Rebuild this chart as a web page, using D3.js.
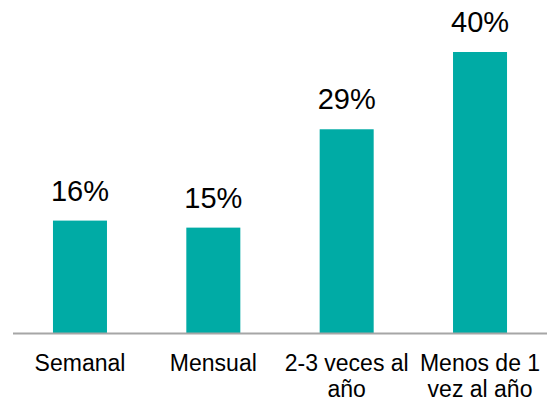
<!DOCTYPE html>
<html>
<head>
<meta charset="utf-8">
<script src="https://cdn.jsdelivr.net/npm/d3@7"></script>
<style>
  html, body { margin: 0; padding: 0; background: #fff; }
  svg { display: block; }
</style>
</head>
<body>
<div id="chart"></div>
<script>
// Frequency categories (each label may wrap onto two lines)
const categories = ["Semanal", "Mensual", "2-3 veces al año", "Menos de 1 vez al año"];
const categoryLines = [["Semanal"], ["Mensual"], ["2-3 veces al", "año"], ["Menos de 1", "vez al año"]];
const values = [16, 15, 29, 40];

const width = 547, height = 403;
const baseY = 333;

const svg = d3.select("#chart").append("svg")
  .attr("width", width)
  .attr("height", height);

const x = d3.scaleBand()
  .domain(categories)
  .range([13.3, 546.7])
  .paddingInner(0.595)
  .paddingOuter(0.2975);

const y = d3.scaleLinear()
  .domain([0, 40])
  .range([baseY, 52]);

// Bars
svg.selectAll("rect.bar")
  .data(values)
  .join("rect")
  .attr("class", "bar")
  .attr("x", (d, i) => x(categories[i]))
  .attr("y", d => y(d))
  .attr("width", x.bandwidth())
  .attr("height", d => baseY - y(d))
  .attr("fill", "#00ABA5");

// Baseline
svg.append("line")
  .attr("x1", 13).attr("x2", width)
  .attr("y1", baseY + 0.5).attr("y2", baseY + 0.5)
  .attr("stroke", "#A6A6A6")
  .attr("stroke-width", 2);

// Value labels above bars
svg.selectAll("text.value")
  .data(values)
  .join("text")
  .attr("class", "value")
  .attr("x", (d, i) => x(categories[i]) + x.bandwidth() / 2)
  .attr("y", d => y(d) - 20)
  .attr("text-anchor", "middle")
  .attr("font-family", "'Liberation Sans', Arial, sans-serif")
  .attr("font-size", 29)
  .attr("fill", "#000")
  .text(d => d + "%");

// Category labels under the axis
const cat = svg.selectAll("g.cat")
  .data(categoryLines)
  .join("g")
  .attr("class", "cat")
  .attr("transform", (d, i) => `translate(${x(categories[i]) + x.bandwidth() / 2},370.5)`);

cat.selectAll("text")
  .data(d => d)
  .join("text")
  .attr("x", 0)
  .attr("y", (d, j) => j * 26)
  .attr("text-anchor", "middle")
  .attr("font-family", "'Liberation Sans', Arial, sans-serif")
  .attr("font-size", 23)
  .attr("fill", "#000")
  .text(d => d);
</script>
</body>
</html>
